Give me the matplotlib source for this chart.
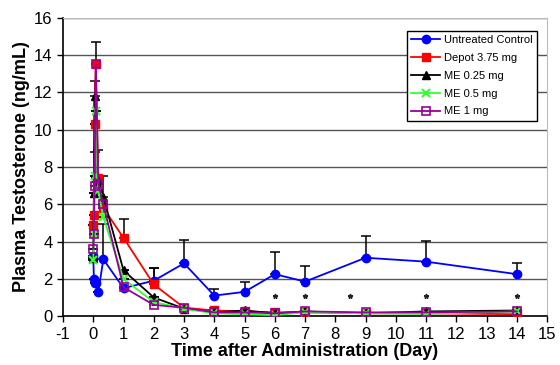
import numpy as np
import matplotlib
matplotlib.use("Agg")
import matplotlib.pyplot as plt

plt.rcParams['font.family'] = ['Liberation Sans', 'DejaVu Sans']
plt.rcParams['axes.unicode_minus'] = False

# sampling times (days)
days = [0, 0.021, 0.042, 0.083, 0.167, 0.333, 1, 2, 3, 4, 5, 6, 7, 9, 11, 14]

# mean plasma testosterone (ng/mL)
control = [3.2, 2.0, 1.8, 1.8, 1.3, 3.05, 1.5, 1.9, 2.83, 1.1, 1.3, 2.25, 1.85, 3.13, 2.92, 2.25]
depot = [4.9, 5.4, 10.3, 13.5, 7.4, 5.8, 4.2, 1.7, 0.45, 0.3, 0.25, 0.2, 0.2, 0.15, 0.15, 0.1]
me_025 = [3.1, 6.6, 11.8, 7.4, 7.3, 6.4, 2.45, 1.0, 0.4, 0.2, 0.3, 0.15, 0.25, 0.15, 0.25, 0.3]
me_05 = [3.0, 4.4, 7.5, 11.0, 6.7, 5.3, 2.0, 0.75, 0.4, 0.15, 0.1, 0.05, 0.2, 0.15, 0.12, 0.25]
me_1 = [3.6, 4.4, 7.0, 13.5, 7.1, 6.0, 1.55, 0.6, 0.45, 0.2, 0.2, 0.15, 0.25, 0.2, 0.2, 0.25]

# upper error bars (SD)
control_err = [0, 0, 0, 0, 0, 1.9, 0, 0.7, 1.25, 0.35, 0.55, 1.2, 0.85, 1.15, 1.1, 0.6]
depot_err = [0, 0, 0, 1.2, 0, 0, 1.0, 0.9, 0, 0, 0, 0, 0, 0, 0, 0]
me_025_err = [0, 0, 0.8, 0, 0, 1.1, 0, 0, 0, 0, 0, 0, 0, 0, 0, 0]
me_05_err = [0, 0, 0, 0, 0, 0, 0, 0, 0, 0, 0, 0, 0, 0, 0, 0]
me_1_err = [0, 0, 1.8, 0, 1.8, 0, 0, 0, 0, 0, 0, 0, 0, 0, 0, 0]

# significance stars
star_days = [6, 7, 8.5, 11, 14]
star_level = 1.1

series = [
    ("Untreated Control", control, control_err, "#0000ff", "o", dict(mfc="#0000ff")),
    ("Depot 3.75 mg", depot, depot_err, "#ff0000", "s", dict(mfc="#ff0000")),
    ("ME 0.25 mg", me_025, me_025_err, "#000000", "^", dict(mfc="#000000")),
    ("ME 0.5 mg", me_05, me_05_err, "#33ff33", "x", dict(mew=1.5)),
    ("ME 1 mg", me_1, me_1_err, "#990099", "s", dict(mfc="none", mew=1.2)),
]

fig = plt.figure(figsize=(5.6, 3.65), dpi=100)
ax = fig.add_axes([0.1125, 0.134, 0.8645, 0.817])

for name, vals, err, col, mk, kw in series:
    up = np.array(err)
    ax.errorbar(days, vals, yerr=[np.zeros_like(up), up], fmt="none",
                ecolor="black", elinewidth=1.1, capsize=3.5, capthick=1.1, zorder=2)
    ax.plot(days, vals, color=col, marker=mk, ms=6, lw=1.3, mec=col,
            label=name, zorder=3, **kw)

ax.plot(star_days, [star_level] * len(star_days), ls="none", marker="*",
        color="#222222", ms=3.5)

ax.set_xlim(-1, 15)
ax.set_ylim(0, 16)
ax.set_xticks(range(-1, 16))
ax.set_yticks(range(0, 17, 2))
ax.yaxis.grid(True, color="#555555", lw=1.0)
ax.set_axisbelow(True)
ax.tick_params(labelsize=12, direction="out", length=4, width=1)
for side in ["top", "right"]:
    ax.spines[side].set_color("#bbbbbb")
ax.spines["left"].set_linewidth(1.2)
ax.spines["bottom"].set_linewidth(1.2)

ax.set_xlabel("Time after Administration (Day)", fontsize=13, fontweight="bold", labelpad=1)
ax.set_ylabel("Plasma Testosterone (ng/mL)", fontsize=13, fontweight="bold", labelpad=3)

leg = ax.legend(loc="upper right", bbox_to_anchor=(0.99, 0.975), fontsize=8,
                frameon=True, fancybox=False, edgecolor="black", framealpha=1,
                handlelength=2.6, borderpad=0.4, labelspacing=0.7, handletextpad=0.3)
leg.get_frame().set_linewidth(1.0)

fig.savefig("out.png", dpi=100)
